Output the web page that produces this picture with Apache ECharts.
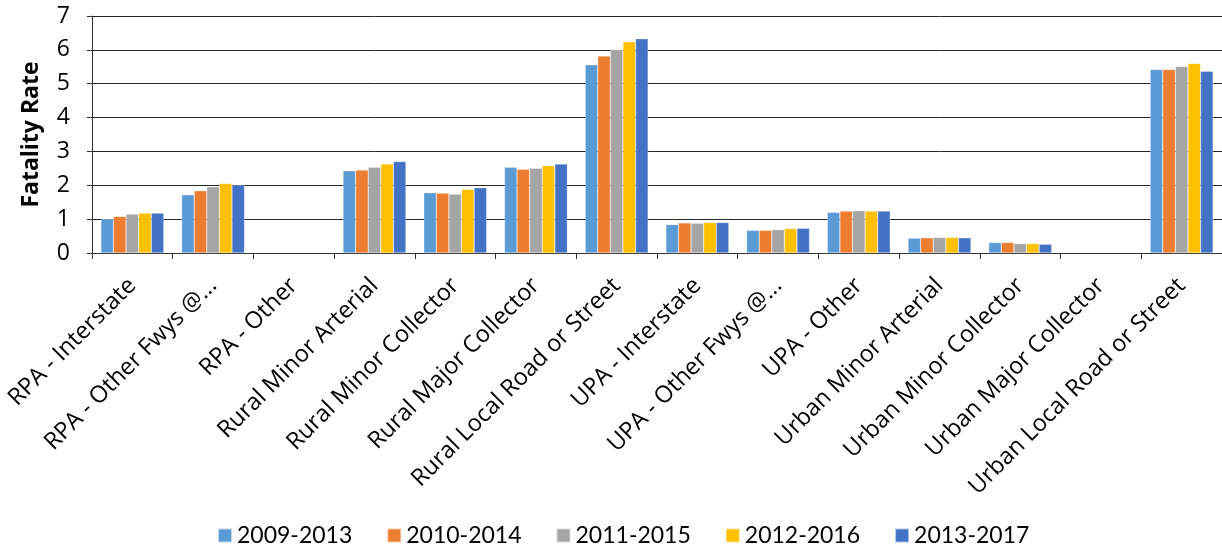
<!DOCTYPE html>
<html>
<head>
<meta charset="utf-8">
<script src="https://cdn.jsdelivr.net/npm/echarts@6/dist/echarts.min.js"></script>
<style>
  html, body { margin: 0; padding: 0; background: #fff; }
  #chart { width: 1222px; height: 557px; }
</style>
</head>
<body>
<div id="chart"></div>
<script>
// 道路类型
const categories = [
  'RPA - Interstate', 'RPA - Other Fwys @...', 'RPA - Other', 'Rural Minor Arterial',
  'Rural Minor Collector', 'Rural Major Collector', 'Rural Local Road or Street',
  'UPA - Interstate', 'UPA - Other Fwys @...', 'UPA - Other', 'Urban Minor Arterial',
  'Urban Minor Collector', 'Urban Major Collector', 'Urban Local Road or Street'
]
const periods = ['2009-2013', '2010-2014', '2011-2015', '2012-2016', '2013-2017']
const colors = ['#5b9bd5', '#ed7d31', '#a5a5a5', '#ffc000', '#4472c4']

// 每个时段的死亡率
const r0913 = [1.01, 1.72, null, 2.43, 1.78, 2.53, 5.56, 0.84, 0.67, 1.20, 0.44, 0.31, null, 5.42]
const r1014 = [1.08, 1.84, null, 2.45, 1.77, 2.47, 5.82, 0.89, 0.67, 1.24, 0.45, 0.31, null, 5.42]
const r1115 = [1.15, 1.96, null, 2.53, 1.74, 2.50, 6.01, 0.88, 0.69, 1.25, 0.46, 0.28, null, 5.51]
const r1216 = [1.18, 2.05, null, 2.63, 1.88, 2.58, 6.24, 0.90, 0.72, 1.24, 0.46, 0.28, null, 5.60]
const r1317 = [1.18, 2.01, null, 2.70, 1.93, 2.63, 6.33, 0.90, 0.73, 1.24, 0.45, 0.26, null, 5.37]
const seriesData = [r0913, r1014, r1115, r1216, r1317]

const yTicks = [0, 1, 2, 3, 4, 5, 6, 7]

const myChart = echarts.init(document.querySelector('#chart'))
const font = '"Open Sans", "Liberation Sans", sans-serif'
const legendFont = 'Lato, "Liberation Sans", sans-serif'
const option = {
  animation: false,
  color: colors,
  textStyle: { fontFamily: font },
  grid: { left: 92, top: 16, right: 0, bottom: 304, containLabel: false },
  legend: {
    bottom: 5,
    left: 212,
    itemWidth: 14,
    itemHeight: 14,
    itemGap: 34,
    icon: 'rect',
    textStyle: { fontSize: 23, color: '#000', fontFamily: legendFont }
  },
  xAxis: {
    type: 'category',
    data: categories,
    axisLine: { lineStyle: { color: '#333', width: 1 } },
    axisTick: { show: true, length: 6, lineStyle: { color: '#333' } },
    axisLabel: {
      interval: 0,
      rotate: 45,
      margin: 29,
      fontSize: 23.5,
      color: '#000',
      fontFamily: font
    }
  },
  yAxis: {
    type: 'value',
    min: yTicks[0],
    max: yTicks[yTicks.length - 1],
    interval: 1,
    name: 'Fatality Rate',
    nameLocation: 'middle',
    nameGap: 49,
    nameTextStyle: { fontSize: 23, fontWeight: 'bold', color: '#000', fontFamily: font },
    axisLine: { show: true, lineStyle: { color: '#333', width: 1 } },
    axisTick: { show: true, length: 5, inside: false, lineStyle: { color: '#333' } },
    axisLabel: { fontSize: 23, color: '#000', margin: 22, fontFamily: font },
    splitLine: { lineStyle: { color: '#262626', width: 1 } }
  },
  series: periods.map((name, i) => ({
    name,
    type: 'bar',
    data: seriesData[i],
    barGap: '0%',
    barCategoryGap: '22%',
    itemStyle: { borderColor: 'rgba(255,255,255,0.6)', borderWidth: 0.5 }
  }))
}
myChart.setOption(option)
</script>
</body>
</html>
